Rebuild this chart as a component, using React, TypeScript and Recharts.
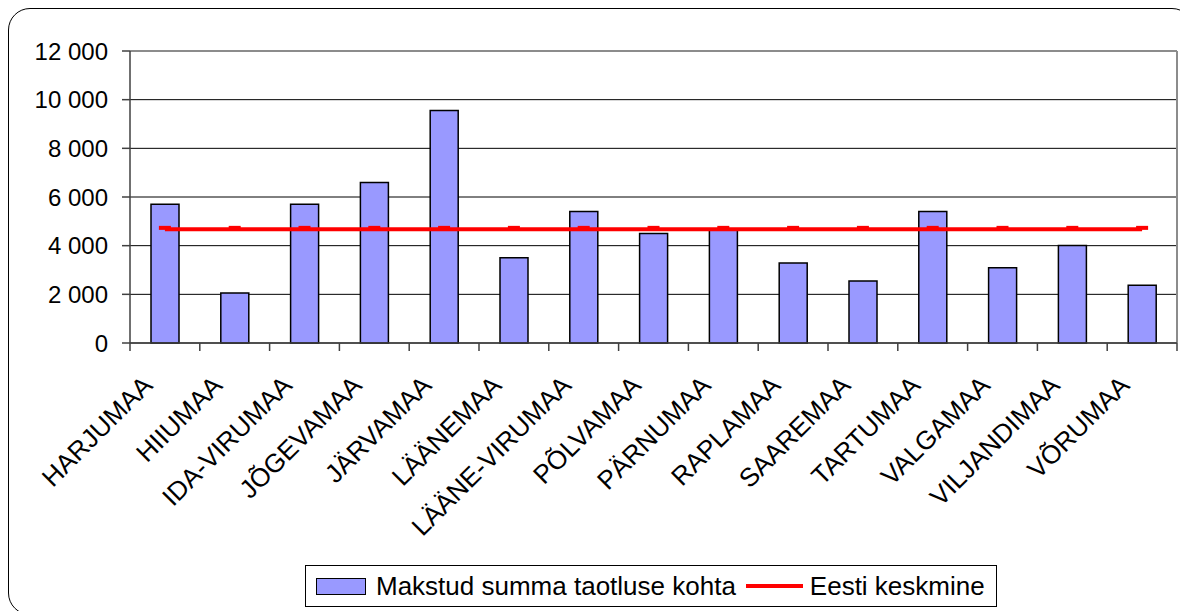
import React from "react";
import {
  ComposedChart,
  Bar,
  Line,
  XAxis,
  YAxis,
  CartesianGrid,
  Legend,
} from "recharts";

const categories = [
  "HARJUMAA",
  "HIIUMAA",
  "IDA-VIRUMAA",
  "JÕGEVAMAA",
  "JÄRVAMAA",
  "LÄÄNEMAA",
  "LÄÄNE-VIRUMAA",
  "PÕLVAMAA",
  "PÄRNUMAA",
  "RAPLAMAA",
  "SAAREMAA",
  "TARTUMAA",
  "VALGAMAA",
  "VILJANDIMAA",
  "VÕRUMAA",
];

const makstudSumma = [
  5700, 2050, 5700, 6600, 9550, 3500, 5400, 4500, 4650, 3290, 2550, 5400, 3090,
  4010, 2370,
];

const eestiKeskmine = [
  4670, 4670, 4670, 4670, 4670, 4670, 4670, 4670, 4670, 4670, 4670, 4670, 4670,
  4670, 4670,
];

const yTicks = [0, 2000, 4000, 6000, 8000, 10000, 12000];
const yTickLabels = ["0", "2 000", "4 000", "6 000", "8 000", "10 000", "12 000"];

const seriesNames = ["Makstud summa taotluse kohta", "Eesti keskmine"];

const data = categories.map((name, i) => ({
  name,
  makstud: makstudSumma[i],
  keskmine: eestiKeskmine[i],
}));

const FONT = "'Liberation Sans', Arial, sans-serif";
const BAR_FILL = "#9999FF";
const LINE_COLOR = "#FF0000";

const XTick = (props: any) => {
  const { x, y, payload, index } = props;
  const half = payload && typeof payload.offset === "number" ? payload.offset : 34.9;
  const last = index === categories.length - 1;
  return (
    <g>
      <line x1={x - half} x2={x - half} y1={y} y2={y + 8} stroke="#404040" strokeWidth={1.5} />
      {last && (
        <line x1={x + half} x2={x + half} y1={y} y2={y + 8} stroke="#404040" strokeWidth={1.5} />
      )}
      <text
        transform={`translate(${x - 11},${y + 44}) rotate(-45)`}
        textAnchor="end"
        fontSize={26}
        fontFamily={FONT}
        fill="#000"
      >
        {payload.value}
      </text>
    </g>
  );
};

const LineDot = (props: any) => {
  const { cx, cy } = props;
  if (cx == null || cy == null) return null;
  return <rect x={cx - 6} y={cy - 3.5} width={12} height={4} fill={LINE_COLOR} />;
};

const LegendContent = () => (
  <div
    style={{
      boxSizing: "border-box",
      width: "100%",
      height: "100%",
      border: "1px solid #000",
      background: "#fff",
      display: "flex",
      alignItems: "center",
      fontFamily: FONT,
      fontSize: 26,
      color: "#000",
      whiteSpace: "nowrap",
    }}
  >
    <span
      style={{
        display: "inline-block",
        boxSizing: "border-box",
        width: 50,
        height: 17,
        background: BAR_FILL,
        border: "1.5px solid #000",
        marginLeft: 10,
        marginRight: 10,
      }}
    />
    <span>{seriesNames[0]}</span>
    <span
      style={{
        display: "inline-block",
        width: 57,
        height: 4,
        background: LINE_COLOR,
        marginLeft: 10,
        marginRight: 7,
      }}
    />
    <span>{seriesNames[1]}</span>
  </div>
);

export default function App() {
  return (
    <div style={{ position: "relative", width: 1180, height: 603, overflow: "hidden", background: "#fff" }}>
      <style>{`html,body{overflow:hidden;}`}</style>
      <div
        style={{
          position: "absolute",
          left: 0,
          top: 0,
          width: 1186,
          height: 607,
          boxSizing: "border-box",
          border: "1.5px solid #000",
          borderRadius: 22,
        }}
      />
      <div style={{ position: "absolute", left: 0, top: 0 }}>
        <ComposedChart
          width={1180}
          height={603}
          data={data}
          margin={{ top: 43, right: 11, left: 0, bottom: 0 }}
          barCategoryGap={0}
        >
          <CartesianGrid vertical={false} stroke="#000" strokeWidth={1} />
          <CartesianGrid
            stroke="#8c8c8c"
            strokeWidth={2}
            horizontalCoordinatesGenerator={(p: any) => [p.offset.top]}
            verticalCoordinatesGenerator={(p: any) => [p.offset.left + p.offset.width]}
          />
          <XAxis
            dataKey="name"
            interval={0}
            height={268}
            tickLine={false}
            tickSize={0}
            tickMargin={0}
            axisLine={{ stroke: "#404040", strokeWidth: 1.5 }}
            tick={<XTick />}
          />
          <YAxis
            width={122}
            domain={[0, 12000]}
            ticks={yTicks}
            interval={0}
            tickSize={8}
            tickMargin={14}
            tickFormatter={(v: number) => yTickLabels[yTicks.indexOf(v)]}
            tick={{ fontSize: 24, fontFamily: FONT, fill: "#000" }}
            tickLine={{ stroke: "#404040", strokeWidth: 1.5 }}
            axisLine={{ stroke: "#404040", strokeWidth: 1.5 }}
          />
          <Bar
            dataKey="makstud"
            name={seriesNames[0]}
            barSize={28}
            fill={BAR_FILL}
            stroke="#000"
            strokeWidth={1.5}
            isAnimationActive={false}
          />
          <Line
            dataKey="keskmine"
            name={seriesNames[1]}
            type="linear"
            stroke={LINE_COLOR}
            strokeWidth={4}
            dot={<LineDot />}
            activeDot={false}
            isAnimationActive={false}
          />
          <Legend
            layout="horizontal"
            verticalAlign="middle"
            align="center"
            wrapperStyle={{ left: 297, top: 557, width: 692, height: 42 }}
            content={<LegendContent />}
          />
        </ComposedChart>
      </div>
    </div>
  );
}
